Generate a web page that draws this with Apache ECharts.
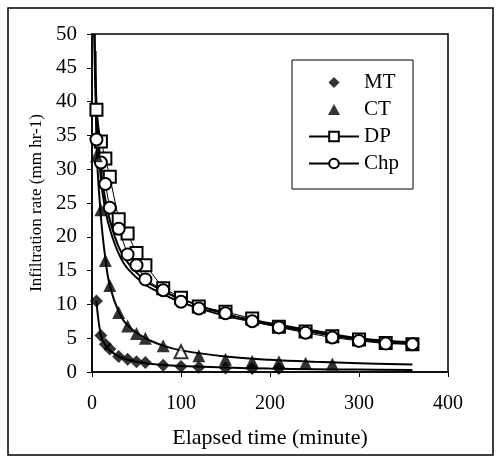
<!DOCTYPE html>
<html>
<head>
<meta charset="utf-8">
<script src="https://cdn.jsdelivr.net/npm/echarts@6/dist/echarts.min.js"></script>
<style>
  html, body { margin: 0; padding: 0; background: #fff; }
  #chart { width: 501px; height: 462px; }
</style>
</head>
<body>
<div id="chart"></div>
<script>
// measured data (minutes, mm hr-1)
const timeMT = [5, 10, 15, 20, 30, 40, 50, 60, 80, 100, 120, 150, 180, 210];
const rateMT = [10.5, 5.4, 4.1, 3.4, 2.3, 1.9, 1.5, 1.4, 1.0, 0.8, 0.7, 0.6, 0.5, 0.5];

const timeCT = [5, 10, 15, 20, 30, 40, 50, 60, 80, 100, 120, 150, 180, 210, 240, 270];
const rateCT = [32, 24, 16.5, 12.8, 8.8, 6.8, 5.7, 5.0, 3.9, 3.0, 2.4, 1.9, 1.6, 1.5, 1.3, 1.2];
const hollowCT = [100]; // this point is drawn open in the original

const timeDP = [5, 10, 15, 20, 30, 40, 50, 60, 80, 100, 120, 150, 180, 210, 240, 270, 300, 330, 360];
const rateDP = [38.8, 34.1, 31.6, 28.9, 22.6, 20.5, 17.6, 15.8, 12.4, 11.0, 9.7, 8.9, 7.9, 6.7, 6.0, 5.3, 4.8, 4.3, 4.1];
const rateChp = [34.4, 31.0, 27.8, 24.3, 21.2, 17.4, 15.8, 13.7, 12.1, 10.4, 9.4, 8.7, 7.5, 6.6, 5.8, 5.1, 4.6, 4.2, 4.1];

// fitted curves
const fitTimeMT = [5, 10, 15, 20, 30, 40, 60, 80, 100, 150, 200, 250, 300, 360];
const fitMT = [10.5, 5.4, 4.0, 3.2, 2.3, 1.8, 1.3, 1.05, 0.9, 0.65, 0.5, 0.42, 0.36, 0.3];
const fitTimeCT = [4, 5, 10, 15, 20, 30, 40, 60, 80, 100, 150, 200, 250, 300, 360];
const fitCT = [47.5, 34, 23, 16.8, 12.8, 8.9, 6.9, 5.0, 3.9, 3.2, 2.3, 1.8, 1.5, 1.3, 1.1];
const fitTimeDP = [3, 5, 10, 15, 20, 30, 40, 60, 80, 100, 150, 200, 250, 300, 360];
const fitDP = [50, 40, 30, 25.5, 22.5, 18.5, 16.2, 13.5, 12.0, 10.8, 8.6, 7.2, 6.1, 5.0, 4.4];
const fitTimeChp = [2.5, 5, 10, 15, 20, 30, 40, 60, 80, 100, 150, 200, 250, 300, 360];
const fitChp = [50, 38, 28.5, 24, 21.2, 17.5, 15.3, 12.9, 11.5, 10.3, 8.3, 7.0, 5.9, 4.8, 4.2];

// axis ticks
const xMin = 0, xMax = 400, xStep = 100;
const yMin = 0, yMax = 50, yStep = 5;

const pairs = (ts, vs) => ts.map((t, i) => [t, vs[i]]);
const serif = 'Liberation Serif';

// legend icons: symbol centred inside an empty 50x14 box so it is not stretched
const iconDiamond = 'path://M0,0M50,14M25,0.5L31.5,7L25,13.5L18.5,7Z';
const iconTriangle = 'path://M0,0M50,14M25,0.5L32,13.5L18,13.5Z';

const chart = echarts.init(document.getElementById('chart'));

const fitLine = (ts, vs) => ({
  type: 'line',
  data: pairs(ts, vs),
  smooth: 0.4,
  showSymbol: false,
  symbol: 'none',
  lineStyle: { color: '#000', width: 2 },
  z: 2,
  silent: true
});

chart.setOption({
  animation: false,
  backgroundColor: '#fff',
  grid: {
    left: 92, right: 53, top: 34, bottom: 90,
    show: true,
    borderColor: '#000',
    borderWidth: 1.5
  },
  legend: {
    data: [
      { name: 'MT', icon: iconDiamond },
      { name: 'CT', icon: iconTriangle },
      { name: 'DP' },
      { name: 'Chp' }
    ],
    orient: 'vertical',
    left: 292,
    top: 60,
    padding: [12, 14, 15, 16],
    itemGap: 6,
    itemWidth: 50,
    itemHeight: 12,
    borderColor: '#000',
    borderWidth: 1,
    textStyle: { fontFamily: serif, fontSize: 21, color: '#000' }
  },
  xAxis: {
    type: 'value',
    min: xMin, max: xMax, interval: xStep,
    name: 'Elapsed time (minute)',
    nameLocation: 'middle',
    nameGap: 55,
    nameTextStyle: { fontFamily: serif, fontSize: 22, color: '#000' },
    axisLine: { lineStyle: { color: '#000', width: 1.5 } },
    axisTick: { lineStyle: { color: '#000' }, length: 5 },
    axisLabel: { fontFamily: serif, fontSize: 20, color: '#000', margin: 22 },
    splitLine: { show: false }
  },
  yAxis: {
    type: 'value',
    min: yMin, max: yMax, interval: yStep,
    name: 'Infiltration rate (mm hr-1)',
    nameLocation: 'middle',
    nameGap: 46,
    nameTextStyle: { fontFamily: serif, fontSize: 17, color: '#000' },
    axisLine: { lineStyle: { color: '#000', width: 1.5 } },
    axisTick: { lineStyle: { color: '#000' }, length: 5 },
    axisLabel: { fontFamily: serif, fontSize: 21, color: '#000', margin: 15 },
    splitLine: { show: false }
  },
  graphic: [{
    type: 'rect',
    shape: { x: 8, y: 8, width: 485, height: 447 },
    style: { fill: 'none', stroke: '#000', lineWidth: 1.5 },
    silent: true
  }],
  series: [
    fitLine(fitTimeMT, fitMT),
    fitLine(fitTimeCT, fitCT),
    fitLine(fitTimeDP, fitDP),
    fitLine(fitTimeChp, fitChp),
    {
      name: 'MT',
      type: 'scatter',
      symbol: 'diamond',
      symbolSize: 13,
      itemStyle: { color: '#000' },
      data: pairs(timeMT, rateMT),
      z: 5
    },
    {
      name: 'CT',
      type: 'scatter',
      symbol: 'triangle',
      symbolSize: 13,
      itemStyle: { color: '#000' },
      data: pairs(timeCT, rateCT).map(p => hollowCT.includes(p[0])
        ? { value: p, symbol: 'emptyTriangle', itemStyle: { color: '#000', borderWidth: 1.2 } }
        : p),
      z: 5
    },
    {
      name: 'DP',
      type: 'line',
      symbol: 'emptyRect',
      symbolSize: 12,
      showAllSymbol: true,
      itemStyle: { color: '#000', borderWidth: 1.6 },
      lineStyle: { color: '#000', width: 1 },
      data: pairs(timeDP, rateDP),
      z: 4
    },
    {
      name: 'Chp',
      type: 'line',
      symbol: 'emptyCircle',
      symbolSize: 12,
      showAllSymbol: true,
      itemStyle: { color: '#000', borderWidth: 1.6 },
      lineStyle: { color: '#000', width: 1 },
      data: pairs(timeDP, rateChp),
      z: 4
    }
  ]
});
</script>
</body>
</html>
